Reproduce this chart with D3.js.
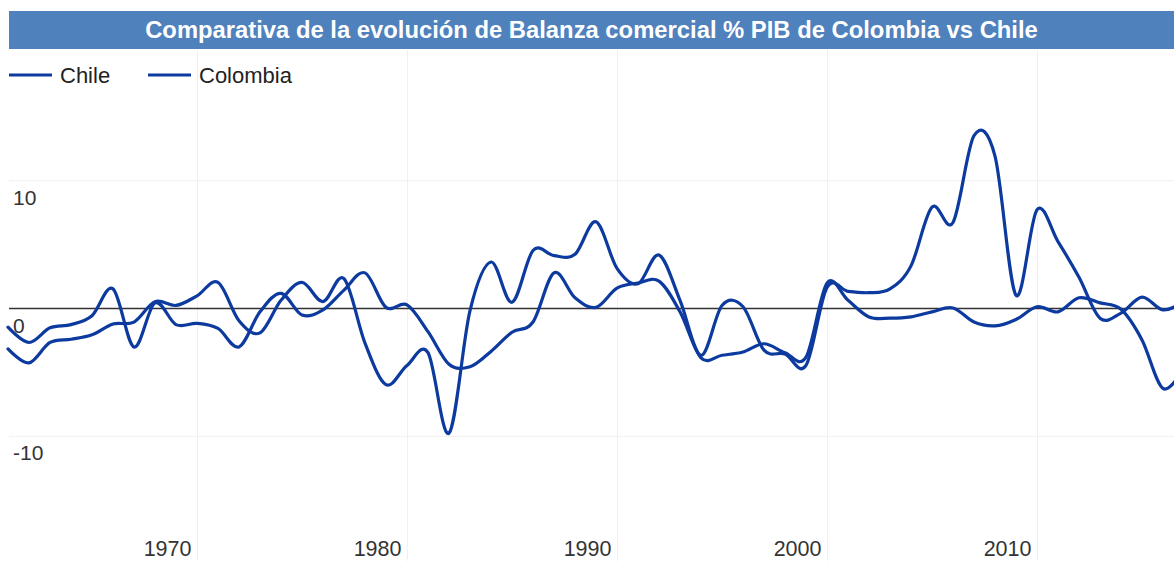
<!DOCTYPE html>
<html><head><meta charset="utf-8">
<script src="https://cdn.jsdelivr.net/npm/d3@7"></script>
<style>
body{margin:0;background:#fff;}
svg{display:block;font-family:"Liberation Sans", Arial, sans-serif;}
</style>
</head><body>
<svg id="chart" width="1174" height="561"></svg>
<script>
const title = "Comparativa de la evolución de Balanza comercial % PIB de Colombia vs Chile";
const seriesNames = ["Chile", "Colombia"];
const years = [1961,1962,1963,1964,1965,1966,1967,1968,1969,1970,
  1971,1972,1973,1974,1975,1976,1977,1978,1979,1980,
  1981,1982,1983,1984,1985,1986,1987,1988,1989,1990,
  1991,1992,1993,1994,1995,1996,1997,1998,1999,2000,
  2001,2002,2003,2004,2005,2006,2007,2008,2009,2010,
  2011,2012,2013,2014,2015,2016,2017];
const chile = [-3.2,-4.3,-2.7,-2.45,-2.1,-1.25,-1.1,0.5,0.2,0.95,
  2.0,-1.0,-1.95,0.6,2.0,0.5,2.3,-2.75,-6.0,-4.5,
  -3.5,-9.8,-0.2,3.6,0.45,4.5,4.1,4.2,6.75,3.1,
  1.9,4.15,0.6,-3.7,0.2,0.1,-3.3,-3.6,-4.5,1.6,
  1.3,1.2,1.5,3.3,7.9,6.7,13.5,11.9,1.0,7.7,
  5.2,2.4,-0.8,-0.4,0.85,-0.15,0.5];
const colombia = [-1.5,-2.7,-1.55,-1.3,-0.6,1.5,-3.05,0.4,-1.3,-1.2,
  -1.6,-3.05,-0.3,1.15,-0.55,-0.15,1.4,2.75,0.05,0.25,
  -1.85,-4.4,-4.6,-3.4,-1.9,-1.1,2.75,0.8,0.05,1.55,
  1.95,2.1,-0.3,-3.9,-3.7,-3.45,-2.8,-3.5,-3.85,1.95,
  0.6,-0.7,-0.8,-0.7,-0.3,0.0,-1.1,-1.4,-0.9,0.1,
  -0.3,0.8,0.4,-0.1,-2.5,-6.3,-4.7];
const xTickValues = [1970,1980,1990,2000,2010];
const yTickValues = [-10,0,10];

const W = 1174, H = 561;
const lineColor = "#0c3a9e";
const svg = d3.select("#chart");

const x = d3.scaleLinear().domain([1961, 2017]).range([8, 1184]);
const y = d3.scaleLinear().domain([-10, 10]).range([435.7, 180.3]);

// Title bar
svg.append("rect").attr("x", 9).attr("y", 11).attr("width", W - 9).attr("height", 38)
  .attr("fill", "#4f81bd");
svg.append("text").attr("x", 591.5).attr("y", 38).attr("text-anchor", "middle")
  .attr("fill", "#fff").attr("font-weight", "bold").attr("font-size", 23.8).text(title);

// X grid + labels
const gx = svg.append("g").attr("transform", `translate(0,${H})`)
  .call(d3.axisBottom(x).tickValues(xTickValues).tickFormat(d => String(d)).tickSize(-(H - 50)));
gx.select(".domain").remove();
gx.selectAll(".tick line").attr("stroke", "#f0f0f0").attr("stroke-width", 1);
gx.selectAll(".tick text").attr("text-anchor", "end").attr("x", -6).attr("y", -5).attr("dy", 0)
  .attr("fill", "#333").attr("font-size", 21.5).attr("font-family", "Liberation Sans, Arial, sans-serif");

// Y grid + labels
const gy = svg.append("g").attr("transform", "translate(9,0)")
  .call(d3.axisRight(y).tickValues(yTickValues).tickFormat(d => String(d)).tickSize(W - 9));
gy.select(".domain").remove();
gy.selectAll(".tick line")
  .attr("stroke", d => d === 0 ? "#333" : "#f0f0f0")
  .attr("stroke-width", d => d === 0 ? 1.5 : 1);
gy.selectAll(".tick text").attr("x", 4).attr("y", 24).attr("dy", 0).attr("text-anchor", "start")
  .attr("fill", "#333").attr("font-size", 21).attr("font-family", "Liberation Sans, Arial, sans-serif");

// Lines
const line = d3.line()
  .x((d, i) => x(years[i]))
  .y(d => y(d))
  .curve(d3.curveCardinal.tension(0));

[chile, colombia].forEach(s => {
  svg.append("path").datum(s).attr("d", line)
    .attr("fill", "none").attr("stroke", lineColor).attr("stroke-width", 3.2)
    .attr("stroke-linejoin", "round").attr("stroke-linecap", "round");
});

// Legend
const legendX = [9, 148];
const lg = svg.append("g");
seriesNames.forEach((n, i) => {
  lg.append("line").attr("x1", legendX[i]).attr("x2", legendX[i] + 43)
    .attr("y1", 75).attr("y2", 75).attr("stroke", lineColor).attr("stroke-width", 3);
  lg.append("text").attr("x", legendX[i] + 51).attr("y", 83)
    .attr("font-size", 22).attr("fill", "#222").text(n);
});
</script>
</body></html>
